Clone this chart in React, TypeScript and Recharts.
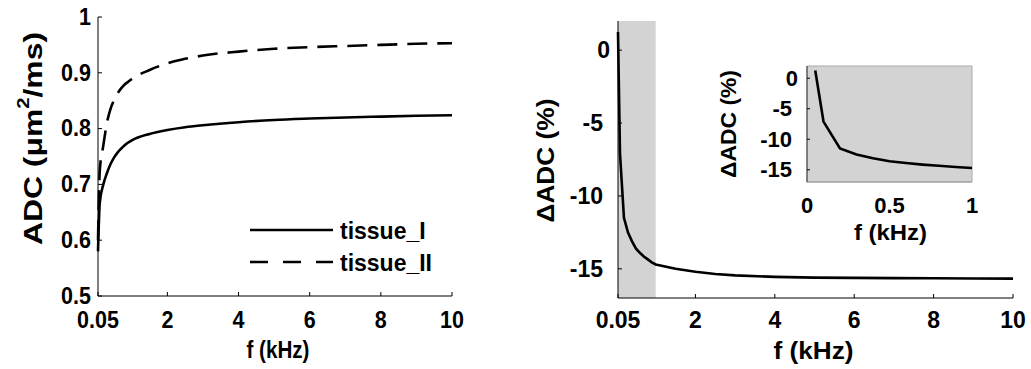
import React from "react";
import { Legend, Line, LineChart, ReferenceArea, XAxis, YAxis } from "recharts";

// frequency grid (kHz) shared by both panels
const freqs = [0.05, 0.1, 0.2, 0.3, 0.4, 0.5, 0.6, 0.7, 0.8, 0.9, 1, 1.5, 2, 2.5, 3, 4, 5, 6, 7, 8, 9, 10];
const tissueI = [0.58, 0.667, 0.7, 0.72, 0.736, 0.748, 0.757, 0.764, 0.77, 0.775, 0.779, 0.7905, 0.7975, 0.8025, 0.806, 0.8115, 0.8155, 0.818, 0.82, 0.8215, 0.823, 0.824];
const tissueII = [0.6, 0.725, 0.77, 0.81, 0.835, 0.851, 0.863, 0.872, 0.879, 0.884, 0.889, 0.905, 0.917, 0.925, 0.931, 0.938, 0.943, 0.946, 0.948, 0.95, 0.952, 0.953];
const deltaAdc = [1.25, -7.1, -11.5, -12.5, -13.1, -13.6, -13.9, -14.15, -14.35, -14.55, -14.7, -15.0, -15.2, -15.35, -15.45, -15.55, -15.6, -15.62, -15.64, -15.65, -15.66, -15.67];

const freqTicks = [0.05, 2, 4, 6, 8, 10];
const adcTicks = [0.5, 0.6, 0.7, 0.8, 0.9, 1];
const deltaTicks = [-15, -10, -5, 0];
const insetFreqTicks = [0, 0.5, 1];
const zoomRange = [0.05, 1];

const series = [
  { key: "tissueI", name: "tissue_I", dash: undefined as string | undefined, legendDash: undefined as string | undefined },
  { key: "tissueII", name: "tissue_II", dash: "20 10", legendDash: "18 15" },
];

const FONT = "'Liberation Sans', Arial, Helvetica, sans-serif";
const SHADE = "#d3d3d3";

const leftData = freqs.map((f, i) => ({ f, tissueI: tissueI[i], tissueII: tissueII[i] }));
const rightData = freqs.map((f, i) => ({ f, dAdc: deltaAdc[i] }));
const insetData = rightData.filter((d) => d.f <= 1);

const fmt = (v: number) => String(v);

const txt = { fontWeight: "bold" as const, fontFamily: FONT, fill: "#000" };

const bottomTick = (size: number, dy: number, mark = 4, sy = 1) => (p: any) => (
  <g>
    {mark > 0 && <line x1={p.x} x2={p.x} y1={p.y} y2={p.y - mark} stroke="#000" />}
    <text
      transform={`translate(${p.x}, ${p.y + dy}) scale(1, ${sy})`}
      textAnchor="middle"
      dominantBaseline="central"
      fontSize={size}
      {...txt}
    >
      {fmt(p.payload.value)}
    </text>
  </g>
);

const leftTick = (size: number, gapPos: number, gapNeg: number, mark = 4, sy = 1) => (p: any) => (
  <g>
    {mark > 0 && <line x1={p.x} x2={p.x + mark} y1={p.y} y2={p.y} stroke="#000" />}
    <text
      transform={`translate(${p.x - (p.payload.value < 0 ? gapNeg : gapPos)}, ${p.y}) scale(1, ${sy})`}
      textAnchor="end"
      dominantBaseline="central"
      fontSize={size}
      {...txt}
    >
      {fmt(p.payload.value)}
    </text>
  </g>
);

const topMark = (p: any) => <line x1={p.x} x2={p.x} y1={p.y} y2={p.y + 4} stroke="#000" />;
const rightMark = (p: any) => <line x1={p.x} x2={p.x - 4} y1={p.y} y2={p.y} stroke="#000" />;

const xLabel = (dx: number, dy: number, size: number, len: number) => (p: any) => {
  const vb = p.viewBox;
  return (
    <text
      x={vb.x + vb.width / 2 + dx}
      y={vb.y + dy}
      textAnchor="middle"
      dominantBaseline="central"
      fontSize={size}
      textLength={len}
      lengthAdjust="spacingAndGlyphs"
      {...txt}
    >
      f (kHz)
    </text>
  );
};

const yLabel = (cx: number, dy: number, size: number, len: number, content: React.ReactNode) => (p: any) => {
  const vb = p.viewBox;
  const x = vb.x + cx;
  const y = vb.y + vb.height / 2 + dy;
  return (
    <text
      x={x}
      y={y}
      transform={`rotate(-90, ${x}, ${y})`}
      textAnchor="middle"
      dominantBaseline="central"
      fontSize={size}
      textLength={len}
      lengthAdjust="spacingAndGlyphs"
      {...txt}
    >
      {content}
    </text>
  );
};

const LegendBox = () => (
  <svg width={200} height={66}>
    {series.map((s, i) => (
      <g key={s.key}>
        <line x1={2} x2={85} y1={16 + i * 32} y2={16 + i * 32} stroke="#000" strokeWidth={2.6} strokeDasharray={s.legendDash} />
        <text transform={`translate(92, ${16 + i * 32}) scale(1, 1.08)`} dominantBaseline="central" fontSize={23} {...txt}>
          {s.name}
        </text>
      </g>
    ))}
  </svg>
);

function AdcPanel() {
  return (
    <LineChart width={520} height={369} data={leftData} margin={{ top: 17, right: 68, bottom: 0, left: 0 }}>
      <XAxis
        dataKey="f"
        type="number"
        domain={[0.05, 10]}
        ticks={freqTicks}
        interval={0}
        height={73}
        tickSize={0}
        tickMargin={0}
        axisLine={{ stroke: "#000" }}
        tick={bottomTick(21.5, 24, 4, 1.1)}
        label={xLabel(3, 54, 23, 63)}
      />
      <XAxis xAxisId="top" dataKey="f" type="number" orientation="top" domain={[0.05, 10]} ticks={freqTicks} interval={0} height={0} tickSize={0} tickMargin={0} axisLine={{ stroke: "#000" }} tick={topMark} allowDataOverflow />
      <YAxis
        type="number"
        domain={[0.5, 1]}
        ticks={adcTicks}
        interval={0}
        width={98}
        tickSize={0}
        tickMargin={0}
        axisLine={{ stroke: "#000" }}
        tick={leftTick(21.5, 7, 7, 4, 1.1)}
        label={yLabel(33, -18, 25, 213, (
          <>
            ADC (μm<tspan dy={-10} fontSize={16}>2</tspan>
            <tspan dy={10}>/ms)</tspan>
          </>
        ))}
      />
      <YAxis yAxisId="right" orientation="right" type="number" domain={[0.5, 1]} ticks={adcTicks} interval={0} width={0} tickSize={0} tickMargin={0} axisLine={{ stroke: "#000" }} tick={rightMark} allowDataOverflow />
      {series.map((s) => (
        <Line
          key={s.key}
          type="monotone"
          dataKey={s.key}
          name={s.name}
          stroke="#000"
          strokeWidth={2.6}
          strokeDasharray={s.dash}
          dot={false}
          activeDot={false}
          isAnimationActive={false}
        />
      ))}
      <Legend
        layout="vertical"
        align="center"
        verticalAlign="middle"
        content={() => <LegendBox />}
        wrapperStyle={{ left: 248, top: 214, width: 200, height: 66 }}
      />
    </LineChart>
  );
}

function DeltaPanel() {
  return (
    <LineChart width={511} height={369} data={rightData} margin={{ top: 21, right: 18, bottom: 0, left: 0 }}>
      <ReferenceArea x1={zoomRange[0]} x2={zoomRange[1]} y1={-17} y2={2} fill={SHADE} fillOpacity={1} stroke="none" />
      <XAxis
        dataKey="f"
        type="number"
        domain={[0.05, 10]}
        ticks={freqTicks}
        interval={0}
        height={71}
        tickSize={0}
        tickMargin={0}
        axisLine={{ stroke: "#000" }}
        tick={bottomTick(23, 22)}
        label={xLabel(-2, 52, 24, 80)}
      />
      <XAxis xAxisId="top" dataKey="f" type="number" orientation="top" domain={[0.05, 10]} ticks={freqTicks} interval={0} height={0} tickSize={0} tickMargin={0} axisLine={{ stroke: "#000" }} tick={topMark} allowDataOverflow />
      <YAxis
        type="number"
        domain={[-17, 2]}
        ticks={deltaTicks}
        interval={0}
        width={98}
        tickSize={0}
        tickMargin={0}
        axisLine={{ stroke: "#000" }}
        tick={leftTick(23, 8, 15)}
        label={yLabel(25, 1, 24, 124, "ΔADC (%)")}
      />
      <YAxis yAxisId="right" orientation="right" type="number" domain={[-17, 2]} ticks={deltaTicks} interval={0} width={0} tickSize={0} tickMargin={0} axisLine={{ stroke: "#000" }} tick={rightMark} allowDataOverflow />
      <Line type="linear" dataKey="dAdc" stroke="#000" strokeWidth={2.6} dot={false} activeDot={false} isAnimationActive={false} />
    </LineChart>
  );
}

function InsetPanel() {
  return (
    <LineChart width={290} height={235} data={insetData} margin={{ top: 46, right: 18, bottom: 0, left: 0 }}>
      <ReferenceArea x1={0} x2={1} y1={-17} y2={2} fill={SHADE} fillOpacity={1} stroke="#aaa" />
      <XAxis
        dataKey="f"
        type="number"
        domain={[0, 1]}
        ticks={insetFreqTicks}
        interval={0}
        height={73}
        tickSize={0}
        tickMargin={0}
        axisLine={{ stroke: "#999" }}
        tick={bottomTick(22, 23, 0)}
        label={xLabel(1, 50, 22, 73)}
      />
      <XAxis
        xAxisId="top"
        dataKey="f"
        type="number"
        orientation="top"
        domain={[0, 1]}
        height={0}
        tick={false}
        axisLine={false}
        allowDataOverflow
        label={(p: any) => (
          <text
            x={p.viewBox.x + p.viewBox.width / 2 + 2.5}
            y={p.viewBox.y - 17.5}
            textAnchor="middle"
            fontSize={23}
            textLength={150}
            lengthAdjust="spacingAndGlyphs"
            {...txt}
          >
            zoomed view
          </text>
        )}
      />
      <YAxis
        type="number"
        domain={[-17, 2]}
        ticks={deltaTicks}
        interval={0}
        width={107}
        tickSize={0}
        tickMargin={0}
        axisLine={{ stroke: "#333" }}
        tick={leftTick(22, 9, 15, 3)}
        label={yLabel(28, 0, 22, 108, "ΔADC (%)")}
      />
      <Line type="linear" dataKey="dAdc" stroke="#000" strokeWidth={2.6} dot={false} activeDot={false} isAnimationActive={false} />
    </LineChart>
  );
}

export default function App() {
  return (
    <div style={{ position: "absolute", left: 0, top: 0, width: 1031, height: 369, background: "#fff" }}>
      <div style={{ position: "absolute", left: 0, top: 0 }}>
        <AdcPanel />
      </div>
      <div style={{ position: "absolute", left: 520, top: 0 }}>
        <DeltaPanel />
      </div>
      <div style={{ position: "absolute", left: 700, top: 20 }}>
        <InsetPanel />
      </div>
    </div>
  );
}
